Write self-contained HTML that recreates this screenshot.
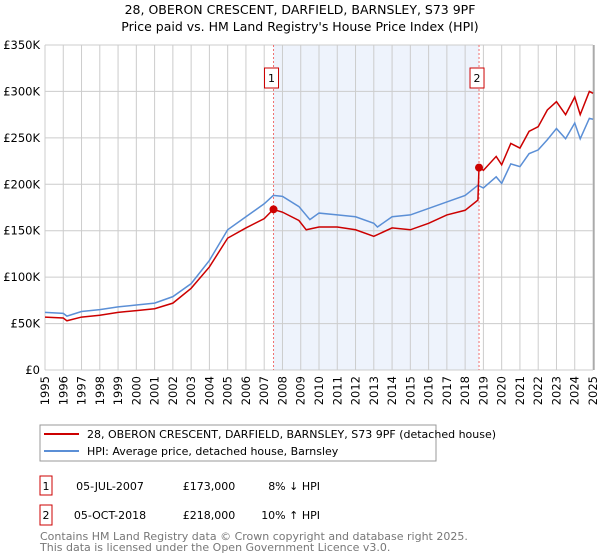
<!DOCTYPE html>
<html><head><meta charset="utf-8"><style>
body{margin:0;background:#fff;font-family:"DejaVu Sans","Liberation Sans",sans-serif;}
svg{display:block}
</style></head><body>
<svg width="600" height="560" id="c" xmlns="http://www.w3.org/2000/svg" font-family="DejaVu Sans, Liberation Sans, sans-serif">
<text x="300" y="14" text-anchor="middle" font-size="12.5">28, OBERON CRESCENT, DARFIELD, BARNSLEY, S73 9PF</text>
<text x="300" y="31" text-anchor="middle" font-size="12.5">Price paid vs. HM Land Registry's House Price Index (HPI)</text>
<g id="plot"></g>
<rect x="40" y="425" width="396" height="36" fill="#fff" stroke="#999"/>
<line x1="44" y1="434" x2="79" y2="434" stroke="#cc0000" stroke-width="2"/>
<text x="87" y="438" font-size="11">28, OBERON CRESCENT, DARFIELD, BARNSLEY, S73 9PF (detached house)</text>
<line x1="44" y1="451" x2="79" y2="451" stroke="#5b8fd6" stroke-width="2"/>
<text x="87" y="455" font-size="11">HPI: Average price, detached house, Barnsley</text>
<g>
<rect x="40" y="476" width="12" height="19" fill="#fff" stroke="#cc0000"/>
<text x="46" y="490" font-size="11" text-anchor="middle">1</text>
<text x="110" y="490" font-size="11" text-anchor="middle">05-JUL-2007</text>
<text x="209" y="490" font-size="11" text-anchor="middle">£173,000</text>
<text x="320" y="490" font-size="11" text-anchor="end">8% ↓ HPI</text>
</g>
<g>
<rect x="40" y="505" width="12" height="20" fill="#fff" stroke="#cc0000"/>
<text x="46" y="519" font-size="11" text-anchor="middle">2</text>
<text x="110" y="519" font-size="11" text-anchor="middle">05-OCT-2018</text>
<text x="209" y="519" font-size="11" text-anchor="middle">£218,000</text>
<text x="320" y="519" font-size="11" text-anchor="end">10% ↑ HPI</text>
</g>
<text x="40" y="540" font-size="11" fill="#777">Contains HM Land Registry data © Crown copyright and database right 2025.</text>
<text x="40" y="551" font-size="11" fill="#777">This data is licensed under the Open Government Licence v3.0.</text>
</svg>
<script>
const yTicks=[0,50,100,150,200,250,300,350];
const yTickLabels=["£0","£50K","£100K","£150K","£200K","£250K","£300K","£350K"];
const xYears=[1995,1996,1997,1998,1999,2000,2001,2002,2003,2004,2005,2006,2007,2008,2009,2010,2011,2012,2013,2014,2015,2016,2017,2018,2019,2020,2021,2022,2023,2024,2025];
const hpiYears=[1995,1996,1996.2,1997,1998,1999,2000,2001,2002,2003,2004,2005,2006,2007,2007.5,2008,2008.9,2009.5,2010,2011,2012,2013,2013.2,2014,2015,2016,2017,2018,2018.7,2019,2019.7,2020,2020.5,2021,2021.5,2022,2022.5,2023,2023.5,2024,2024.3,2024.8,2025];
const hpiValues=[62,61,58,63,65,68,70,72,79,93,118,151,165,179,188,187,176,162,169,167,165,158,154,165,167,174,181,188,199,196,208,201,222,219,233,237,248,260,249,266,249,271,270];
const propYears=[1995,1996,1996.2,1997,1998,1999,2000,2001,2002,2003,2004,2005,2006,2007,2007.5,2008,2008.9,2009.3,2010,2011,2012,2013,2014,2015,2016,2017,2018,2018.7,2018.76,2019,2019.7,2020,2020.5,2021,2021.5,2022,2022.5,2023,2023.5,2024,2024.3,2024.8,2025];
const propValues=[57,56,53,57,59,62,64,66,72,88,111,142,153,163,173,170,161,151,154,154,151,144,153,151,158,167,172,183,219,215,230,221,244,239,257,262,280,289,275,294,275,300,298];
const saleYears=[2007.51,2018.76];
const saleValues=[173,218];
const saleLabels=["1","2"];
const X0=45,X1=593,Y0=370,Y1=45;
const xs=y=>X0+(y-1995)/30*(X1-X0);
const ys=v=>Y0-v/350*(Y0-Y1);
const NS="http://www.w3.org/2000/svg";
const g=document.getElementById('plot');
function mk(t,a){const e=document.createElementNS(NS,t);for(const k in a)e.setAttribute(k,a[k]);g.appendChild(e);return e;}
let e=mk('rect',{x:xs(saleYears[0]),y:Y1,width:xs(saleYears[1])-xs(saleYears[0]),height:Y0-Y1,fill:'#eef3fc'});


xYears.forEach(yr=>{const l=mk('line',{x1:xs(yr),x2:xs(yr),y1:Y1,y2:Y0,stroke:'#ccc','stroke-width':1});


const t=mk('text',{x:0,y:0,'font-size':11.5,'text-anchor':'end',transform:`translate(${xs(yr)+4},${Y0+6}) rotate(-90)`});t.textContent=yr;

});
yTicks.forEach((v,i)=>{const l=mk('line',{x1:X0,x2:X1,y1:ys(v),y2:ys(v),stroke:'#ccc','stroke-width':1});


const t=mk('text',{x:X0-5,y:ys(v)+4,'font-size':11.5,'text-anchor':'end'});t.textContent=yTickLabels[i];

});
e=mk('line',{x1:X1+1,x2:X1+1,y1:Y1,y2:Y0,stroke:'#888'});


saleYears.forEach((yr,i)=>{const l=mk('line',{x1:xs(yr),x2:xs(yr),y1:Y1,y2:Y0,stroke:'#f07070','stroke-dasharray':'2,2'});


const r=mk('rect',{x:xs(yr)-21+(i?0:0)-(i?2:0)+(i?0:0),y:68,width:14,height:20,fill:'#fff',stroke:'#cc0000'});
r.setAttribute('x',xs(yr)-9);


const t=mk('text',{x:xs(yr)-2,y:82,'font-size':11,'text-anchor':'middle'});t.textContent=saleLabels[i];

});
e=mk('polyline',{points:hpiYears.map((y,i)=>xs(y)+','+ys(hpiValues[i])).join(' '),fill:'none',stroke:'#5b8fd6','stroke-width':1.5});


e=mk('polyline',{points:propYears.map((y,i)=>xs(y)+','+ys(propValues[i])).join(' '),fill:'none',stroke:'#cc0000','stroke-width':1.5});


saleYears.forEach((yr,i)=>{const c=mk('circle',{cx:xs(yr),cy:ys(saleValues[i]),r:4,fill:'#cc0000'});

});
</script>
</body></html>
